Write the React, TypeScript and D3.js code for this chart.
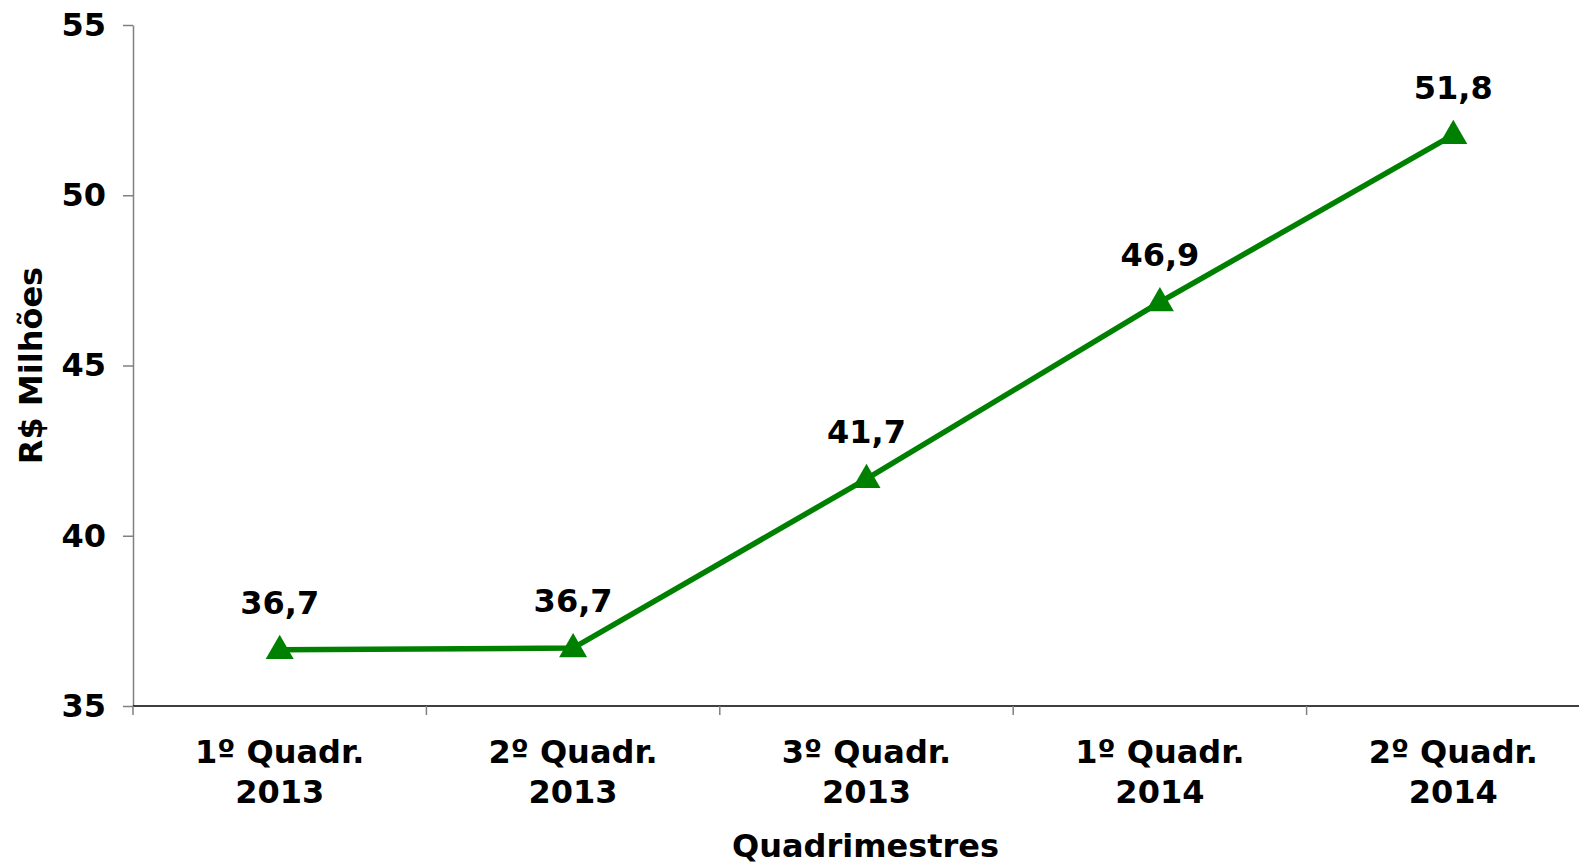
import React, { useEffect, useRef } from "react";
import * as d3 from "d3";

const categories = ["1º Quadr.|2013", "2º Quadr.|2013", "3º Quadr.|2013", "1º Quadr.|2014", "2º Quadr.|2014"];
const values = [36.65, 36.7, 41.67, 46.86, 51.77];
const valueLabels = ["36,7", "36,7", "41,7", "46,9", "51,8"];
const yTicks = [35, 40, 45, 50, 55];

const App = () => {
  const ref = useRef<SVGSVGElement>(null);

  useEffect(() => {
    const width = 1579;
    const height = 864;
    const marginLeft = 133;
    const plotRight = 1600;
    const top = 25;
    const bottom = 706;
    const font = "DejaVu Sans, sans-serif";
    const fs = 32;

    const svg = d3.select(ref.current);
    svg.selectAll("*").remove();
    svg.attr("width", width).attr("height", height).style("display", "block");

    const x = d3.scaleBand().domain(categories).range([marginLeft, plotRight]);
    const y = d3.scaleLinear().domain([35, 55]).range([bottom, top]);

    // y axis
    const yAxis = svg.append("g").attr("transform", `translate(${marginLeft},0)`)
      .call(d3.axisLeft(y).tickValues(yTicks).tickSize(10).tickSizeOuter(0).tickPadding(17));
    yAxis.select(".domain").attr("stroke", "#808080").attr("stroke-width", 1.5);
    yAxis.selectAll(".tick line").attr("stroke", "#808080").attr("stroke-width", 1.5);
    yAxis.selectAll(".tick text")
      .attr("font-family", font).attr("font-weight", "bold").attr("font-size", fs).attr("fill", "#000");

    // x axis
    const xAxis = svg.append("g").attr("transform", `translate(0,${bottom})`);
    xAxis.append("line").attr("x1", marginLeft).attr("x2", plotRight).attr("stroke", "#000").attr("stroke-width", 1.5);
    const edges = categories.map((c) => x(c)!);
    xAxis.selectAll("line.tk").data(edges).join("line").attr("class", "tk")
      .attr("x1", (d) => d).attr("x2", (d) => d).attr("y1", 0).attr("y2", 9)
      .attr("stroke", "#808080").attr("stroke-width", 1.5);
    const lbl = xAxis.selectAll("text.cat").data(categories).join("text").attr("class", "cat")
      .attr("text-anchor", "middle").attr("font-family", font).attr("font-weight", "bold")
      .attr("font-size", fs).attr("fill", "#000");
    lbl.each(function (d) {
      const parts = d.split("|");
      const t = d3.select(this);
      parts.forEach((p, i) => {
        t.append("tspan").attr("x", x(d)! + x.bandwidth() / 2).attr("y", 57 + i * 40).text(p);
      });
    });

    // axis titles
    svg.append("text").attr("transform", `translate(42,${(top + bottom) / 2}) rotate(-90)`)
      .attr("text-anchor", "middle").attr("font-family", font).attr("font-weight", "bold")
      .attr("font-size", fs).text("R$ Milhões");
    svg.append("text").attr("x", (marginLeft + plotRight) / 2 - 1).attr("y", 857)
      .attr("text-anchor", "middle").attr("font-family", font).attr("font-weight", "bold")
      .attr("font-size", fs).text("Quadrimestres");

    const cx = (i: number) => x(categories[i])! + x.bandwidth() / 2;

    const line = d3.line<number>().x((d, i) => cx(i)).y((d) => y(d));
    svg.append("path").datum(values).attr("d", line).attr("fill", "none")
      .attr("stroke", "#008000").attr("stroke-width", 5.5);

    const tri = d3.symbol().type(d3.symbolTriangle).size(340);
    svg.append("g").selectAll("path").data(values).join("path")
      .attr("d", tri).attr("fill", "#008000")
      .attr("transform", (d, i) => `translate(${cx(i)},${y(d) + 1})`);

    svg.append("g").selectAll("text").data(values).join("text")
      .attr("x", (d, i) => cx(i)).attr("y", (d) => y(d) - 36)
      .attr("text-anchor", "middle").attr("font-family", font).attr("font-weight", "bold")
      .attr("font-size", fs).attr("fill", "#000").text((d, i) => valueLabels[i]);
  }, []);

  return <svg ref={ref} style={{ position: "absolute", left: 0, top: 0 }}></svg>;
};

export default App;
